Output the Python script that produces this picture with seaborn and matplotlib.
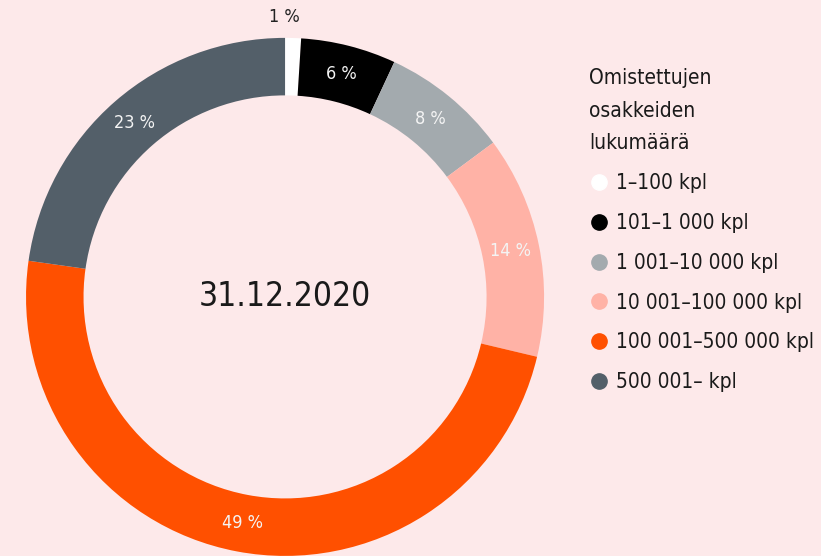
import matplotlib
matplotlib.use("Agg")
import matplotlib.pyplot as plt
import seaborn as sns
import numpy as np
from matplotlib.lines import Line2D

# data
categories = ['1–100 kpl', '101–1 000 kpl', '1 001–10 000 kpl',
              '10 001–100 000 kpl', '100 001–500 000 kpl', '500 001– kpl']
shares = [1, 6, 8, 14, 49, 23]
pct_labels = ['1 %', '6 %', '8 %', '14 %', '49 %', '23 %']
colors = ['#ffffff', '#000000', '#a3aaae', '#ffb2a6', '#ff5000', '#535f69']
legend_title = 'Omistettujen\nosakkeiden\nlukumäärä'
center_text = '31.12.2020'

bg = '#fde9ea'
sns.set_theme(style='white')
plt.rcParams['font.family'] = ['DejaVu Sans']
plt.rcParams['font.stretch'] = 'condensed'

fig = plt.figure(figsize=(8.21, 5.56), dpi=100, facecolor=bg)
ax = fig.add_axes([0.0317, 0.0, 0.631, 0.932])
ax.set_facecolor(bg)

wedges, _ = ax.pie(shares, colors=colors, startangle=90, counterclock=False,
                   radius=1.0, wedgeprops=dict(width=0.222, linewidth=0))
ax.set_xlim(-1, 1)
ax.set_ylim(-1, 1)
ax.set_aspect('equal')
ax.axis('off')

for w, lab in zip(wedges, pct_labels):
    ang = np.deg2rad((w.theta1 + w.theta2) / 2)
    if lab == '1 %':
        r, col, x_off = 1.08, '#222222', -0.035
    else:
        r, col, x_off = 0.888, '#f4f4f4', 0
    ax.text(r * np.cos(ang) + x_off, r * np.sin(ang), lab, ha='center', va='center',
            fontsize=13, color=col)

ax.text(0, 0, center_text, ha='center', va='center', fontsize=24, color='#1a1a1a')

handles = [Line2D([0], [0], marker='o', linestyle='', markersize=11,
                  markerfacecolor=c, markeredgecolor=c) for c in colors]
leg = fig.legend(handles, categories, title=legend_title, loc='upper left',
                 bbox_to_anchor=(0.707, 0.893), frameon=False, fontsize=15,
                 title_fontsize=15, labelspacing=0.95, handletextpad=0.3,
                 handlelength=1.0, borderaxespad=0)
leg._legend_box.align = 'left'
leg.get_title().set_linespacing(1.8)
for t in leg.get_texts():
    t.set_color('#1a1a1a')
leg.get_title().set_color('#1a1a1a')

fig.savefig('out.png', dpi=100, facecolor=bg)
